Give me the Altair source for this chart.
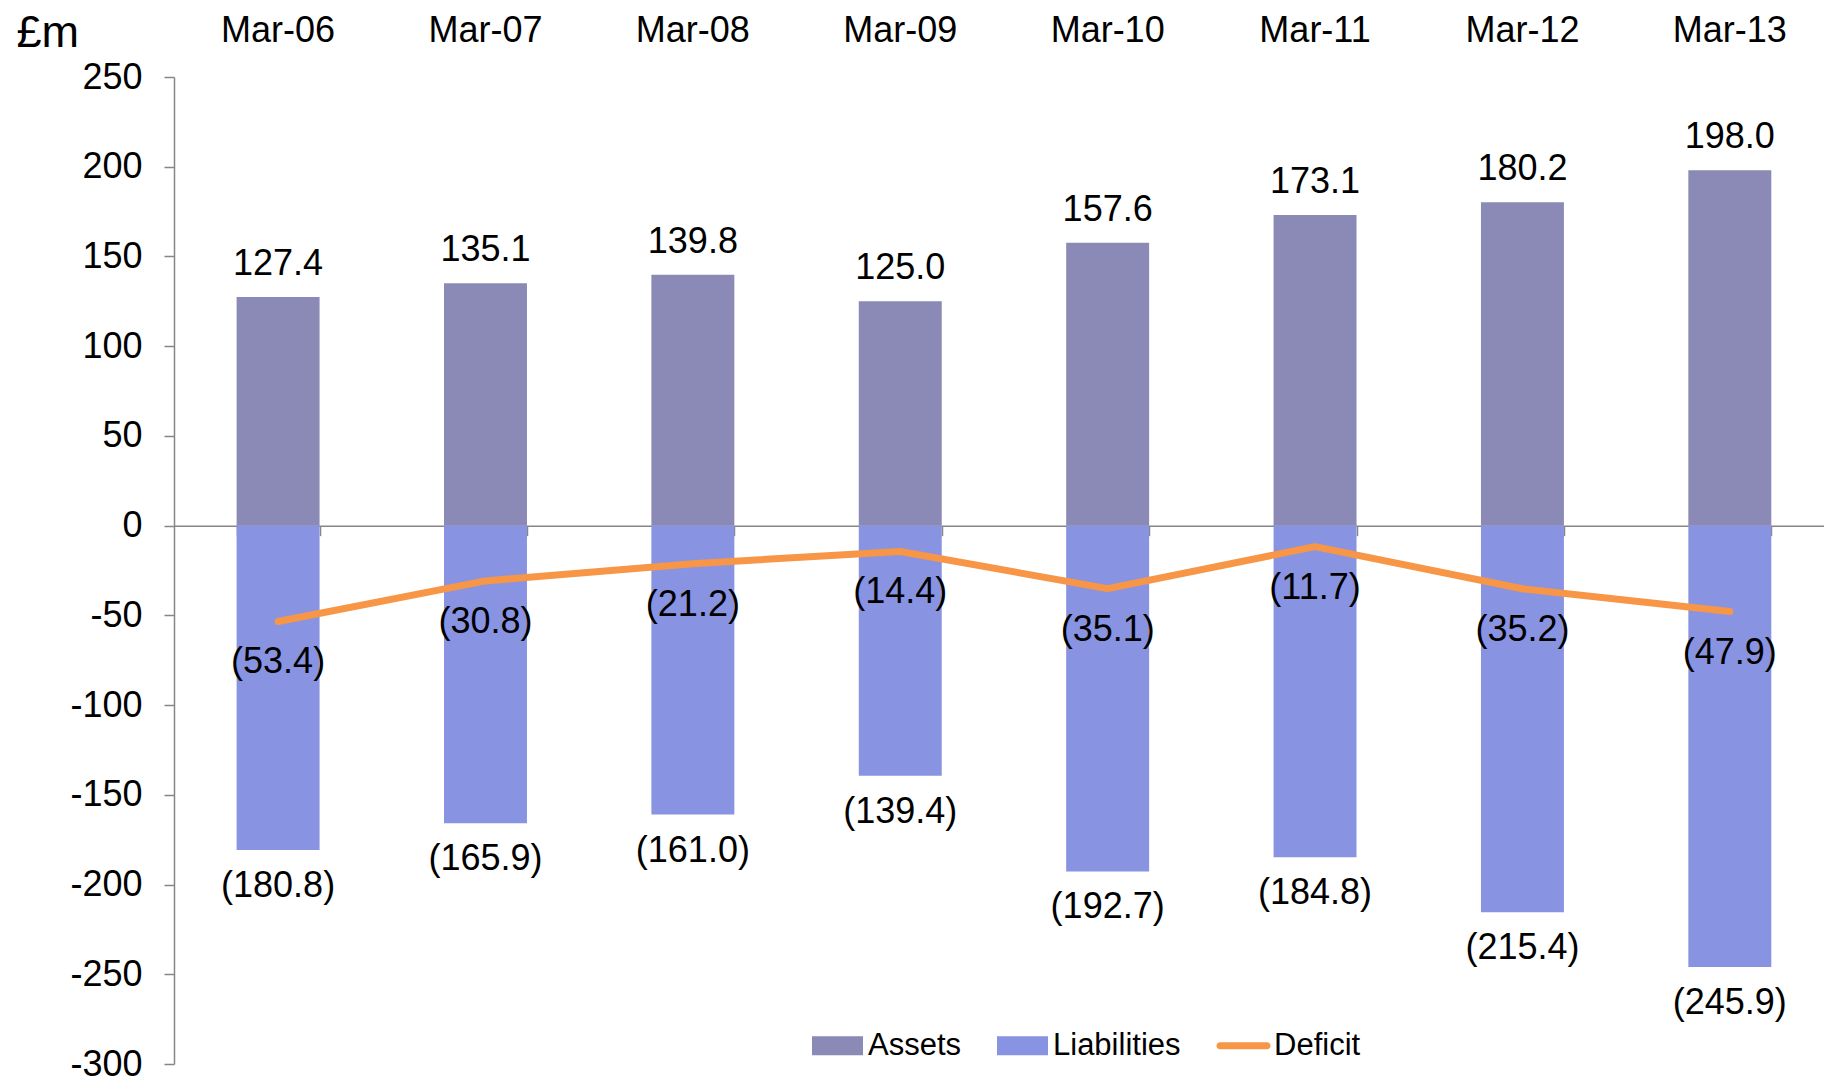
import altair as alt
import pandas as pd

categories = ["Mar-06", "Mar-07", "Mar-08", "Mar-09", "Mar-10", "Mar-11", "Mar-12", "Mar-13"]
assets = [127.4, 135.1, 139.8, 125.0, 157.6, 173.1, 180.2, 198.0]
liabilities = [-180.8, -165.9, -161.0, -139.4, -192.7, -184.8, -215.4, -245.9]
deficit = [-53.4, -30.8, -21.2, -14.4, -35.1, -11.7, -35.2, -47.9]
series_names = ["Assets", "Liabilities", "Deficit"]
series_colors = ["#8B89B5", "#8893E2", "#F79646"]
y_ticks = [-300, -250, -200, -150, -100, -50, 0, 50, 100, 150, 200, 250]

FONT = "Liberation Sans"
W, H = 1650, 987
Y_MIN, Y_MAX = -300, 250


def fmt(v):
    return f"{v:.1f}" if v >= 0 else f"({-v:.1f})"


rows = []
for i, c in enumerate(categories):
    for s, vals in zip(series_names, [assets, liabilities, deficit]):
        rows.append({"category": c, "series": s, "value": vals[i], "label": fmt(vals[i])})
df = pd.DataFrame(rows)

color_scale = alt.Scale(domain=series_names, range=series_colors)
x_scale = alt.Scale(domain=categories, paddingInner=0.6, paddingOuter=0.278, align=0.543)
y_scale = alt.Scale(domain=[Y_MIN, Y_MAX], nice=False, zero=False)

base = alt.Chart(df)

y_enc = alt.Y(
    "value:Q",
    scale=y_scale,
    axis=alt.Axis(
        values=y_ticks, grid=False, domainColor="#868686", domainWidth=1.5,
        tickColor="#868686", tickWidth=1.5, tickSize=10, labelPadding=22,
        labelFontSize=36, labelFont=FONT, labelColor="#000000",
        labelExpr="replace(datum.label, '\u2212', '-')",
        title="£m", titleAngle=0, titleX=-158, titleY=-45, titleAlign="left",
        titleBaseline="middle", titleFontSize=45, titleFont=FONT,
        titleFontWeight="normal", titleColor="#000000",
    ),
)

x_top = alt.X("category:N", scale=x_scale, sort=categories, title=None,
              axis=alt.Axis(orient="top", domain=False, ticks=False, tickSize=0,
                            labelPadding=28, labelFontSize=36, labelFont=FONT,
                            labelColor="#000000", labelAngle=0))

zero_offset = -(0 - Y_MIN) / (Y_MAX - Y_MIN) * H

x_zero = alt.X("category:N", scale=x_scale, sort=categories, title=None,
               axis=alt.Axis(orient="bottom", offset=zero_offset, labels=False,
                             tickBand="extent", tickSize=10, tickColor="#868686",
                             tickWidth=1.5, domainColor="#868686", domainWidth=1.5))

x_plain = alt.X("category:N", scale=x_scale, sort=categories, axis=None)

assets_bars = base.transform_filter(alt.datum.series == "Assets").mark_bar(
    color=series_colors[0]
).encode(x=x_top, y=y_enc)

liab_bars = base.transform_filter(alt.datum.series == "Liabilities").mark_bar(
    color=series_colors[1]
).encode(x=x_plain, y=alt.Y("value:Q", scale=y_scale))

line = base.transform_filter(alt.datum.series == "Deficit").mark_line(
    color=series_colors[2], strokeWidth=7, strokeCap="round", strokeJoin="round"
).encode(x=x_zero, y=alt.Y("value:Q", scale=y_scale))

text_common = dict(fontSize=36, font=FONT, color="#000000", baseline="middle", align="center")

assets_text = base.transform_filter(alt.datum.series == "Assets").mark_text(dy=-33, **text_common).encode(
    x=x_plain, y=alt.Y("value:Q", scale=y_scale), text="label:N",
)
liab_text = base.transform_filter(alt.datum.series == "Liabilities").mark_text(dy=36, **text_common).encode(
    x=x_plain, y=alt.Y("value:Q", scale=y_scale), text="label:N",
)
def_text = base.transform_filter(alt.datum.series == "Deficit").mark_text(dy=41, **text_common).encode(
    x=x_plain, y=alt.Y("value:Q", scale=y_scale), text="label:N",
)

rect_path = "M-1,-0.37H1V0.37H-1Z"
line_path = "M-0.92,-0.14H0.92A0.14,0.14 0 0 1 0.92,0.14H-0.92A0.14,0.14 0 0 1 -0.92,-0.14Z"

legend_layer = base.transform_filter("false").mark_point(filled=True, opacity=1).encode(
    color=alt.Color(
        "series:N", scale=color_scale, title=None,
        legend=alt.Legend(
            orient="none", legendX=638, legendY=943, direction="horizontal",
            labelFontSize=31, labelFont=FONT, labelColor="#000000", labelOffset=5,
            columnPadding=35, padding=0, symbolSize=2601, symbolStrokeWidth=0,
            labelLimit=400,
        ),
    ),
    shape=alt.Shape("series:N", scale=alt.Scale(domain=series_names,
                                                range=[rect_path, rect_path, line_path]),
                    title=None),
)

chart = alt.layer(
    assets_bars, liab_bars, line, assets_text, liab_text, def_text, legend_layer
).properties(
    width=W, height=H,
    autosize=alt.AutoSizeParams(type="none"),
    padding={"left": 174, "top": 77, "right": 0, "bottom": 15},
    background="#ffffff",
).configure_view(stroke=None)

chart.save("out.html", embed_options={"renderer": "svg", "actions": False})
